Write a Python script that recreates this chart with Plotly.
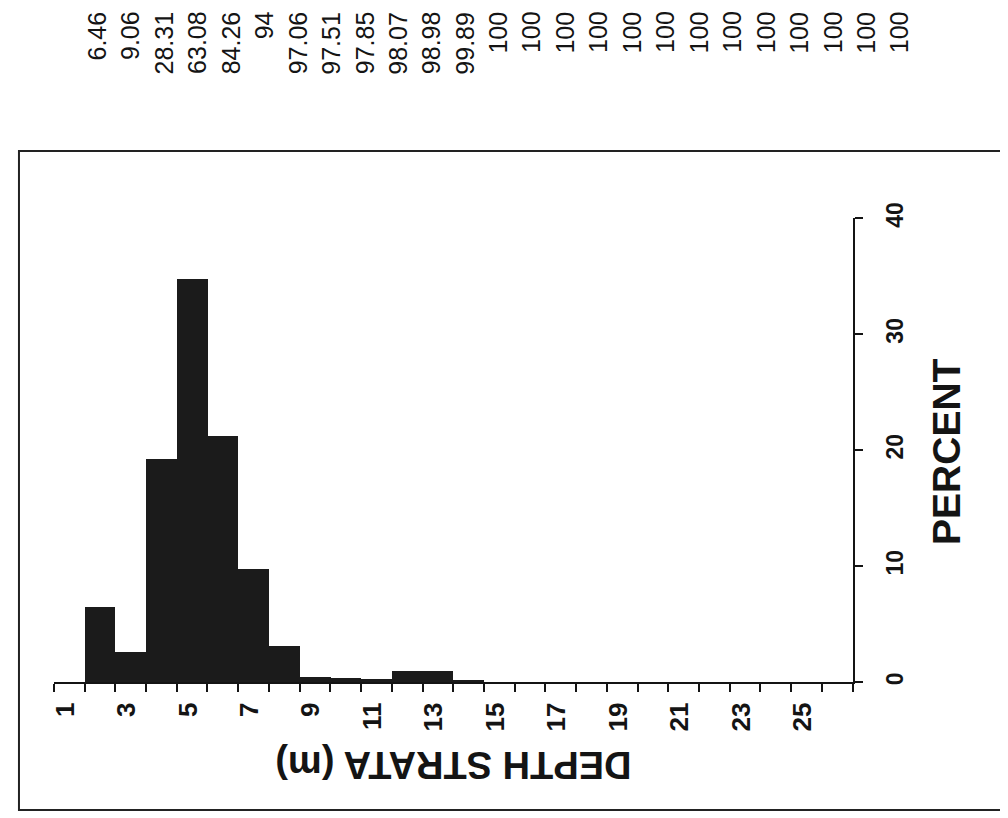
import plotly.graph_objects as go

# ---- data ----
depth = list(range(1, 27))                      # depth strata (m), one bin per metre
percent = [0, 6.46, 2.60, 19.25, 34.77, 21.18, 9.74, 3.06, 0.45, 0.34,
           0.22, 0.91, 0.91, 0.11, 0, 0, 0, 0, 0, 0,
           0, 0, 0, 0, 0, 0]
depth_labels = [1, 3, 5, 7, 9, 11, 13, 15, 17, 19, 21, 23, 25]
percent_ticks = [0, 10, 20, 30, 40]
cumulative = [6.46, 9.06, 28.31, 63.08, 84.26, 94, 97.06, 97.51, 97.85, 98.07,
              98.98, 99.89, 100, 100, 100, 100, 100, 100, 100, 100,
              100, 100, 100, 100, 100]

# page is shown with the browser's 8px body margin
W, H = 1000, 810
OFF = 8
FONT = "Liberation Sans, Arial, sans-serif"
INK = "#141414"


def px(x):   # page pixel -> paper x
    return (x - OFF) / W


def py(y):   # page pixel -> paper y
    return 1 - (y - OFF) / H


fig = go.Figure()
fig.add_trace(go.Bar(
    x=depth, y=percent, width=1,
    marker=dict(color="#1b1b1b", line=dict(width=0)),
    showlegend=False, hoverinfo="x+y",
))

annotations = []
TABLE_X0, TABLE_STEP = 93, 33.6
for i, v in enumerate(cumulative):
    annotations.append(dict(
        x=px(TABLE_X0 + i * TABLE_STEP), xref="paper", y=py(-7), yref="paper",
        text=f"{v:g}", showarrow=False, textangle=-90,
        xanchor="center", yanchor="top",
        font=dict(family=FONT, size=25, color=INK),
    ))
annotations.append(dict(
    x=px(946), y=py(446), xref="paper", yref="paper",
    text="PERCENT", showarrow=False, textangle=-90,
    xanchor="center", yanchor="middle",
    font=dict(family=FONT, size=39, color=INK, weight=700),
))
annotations.append(dict(
    x=px(451), y=py(767), xref="paper", yref="paper",
    text="DEPTH STRATA (m)", showarrow=False, textangle=180,
    xanchor="center", yanchor="middle",
    font=dict(family=FONT, size=38, color=INK, weight=700),
))

fig.update_layout(
    width=W, height=H,
    margin=dict(l=0, r=0, t=0, b=0),
    paper_bgcolor="white", plot_bgcolor="rgba(0,0,0,0)",
    bargap=0,
    xaxis=dict(
        domain=[px(50), px(852)], range=[0.5, 26.5],
        tickmode="array", tickvals=depth_labels,
        ticktext=[str(d) for d in depth_labels],
        tickangle=-90, ticks="", ticklabelstandoff=8, ticklabelshift=-4,
        tickfont=dict(family=FONT, size=26, color=INK, weight=700),
        showline=True, linecolor=INK, linewidth=1.8,
        showgrid=False, zeroline=False,
        minor=dict(tickmode="array", tickvals=[d - 0.5 for d in depth] + [depth[-1] + 0.5],
                   ticks="outside", ticklen=8, tickwidth=1.5, tickcolor=INK,
                   showgrid=False),
        fixedrange=True,
    ),
    yaxis=dict(
        domain=[py(682), py(207)], range=[0, 40],
        side="right", anchor="x",
        tickmode="array", tickvals=percent_ticks,
        ticks="outside", ticklen=8, tickwidth=1.5, tickcolor=INK,
        tickangle=-90, ticklabelstandoff=13,
        tickfont=dict(family=FONT, size=23, color=INK, weight=700),
        showline=True, linecolor=INK, linewidth=1.8,
        showgrid=False, zeroline=False, fixedrange=True,
    ),
    annotations=annotations,
    shapes=[dict(
        type="rect", xref="paper", yref="paper",
        x0=px(15), x1=1.05, y0=py(813), y1=py(138),
        line=dict(color="#222222", width=2), layer="below",
    )],
)

fig.write_html("out.html")
